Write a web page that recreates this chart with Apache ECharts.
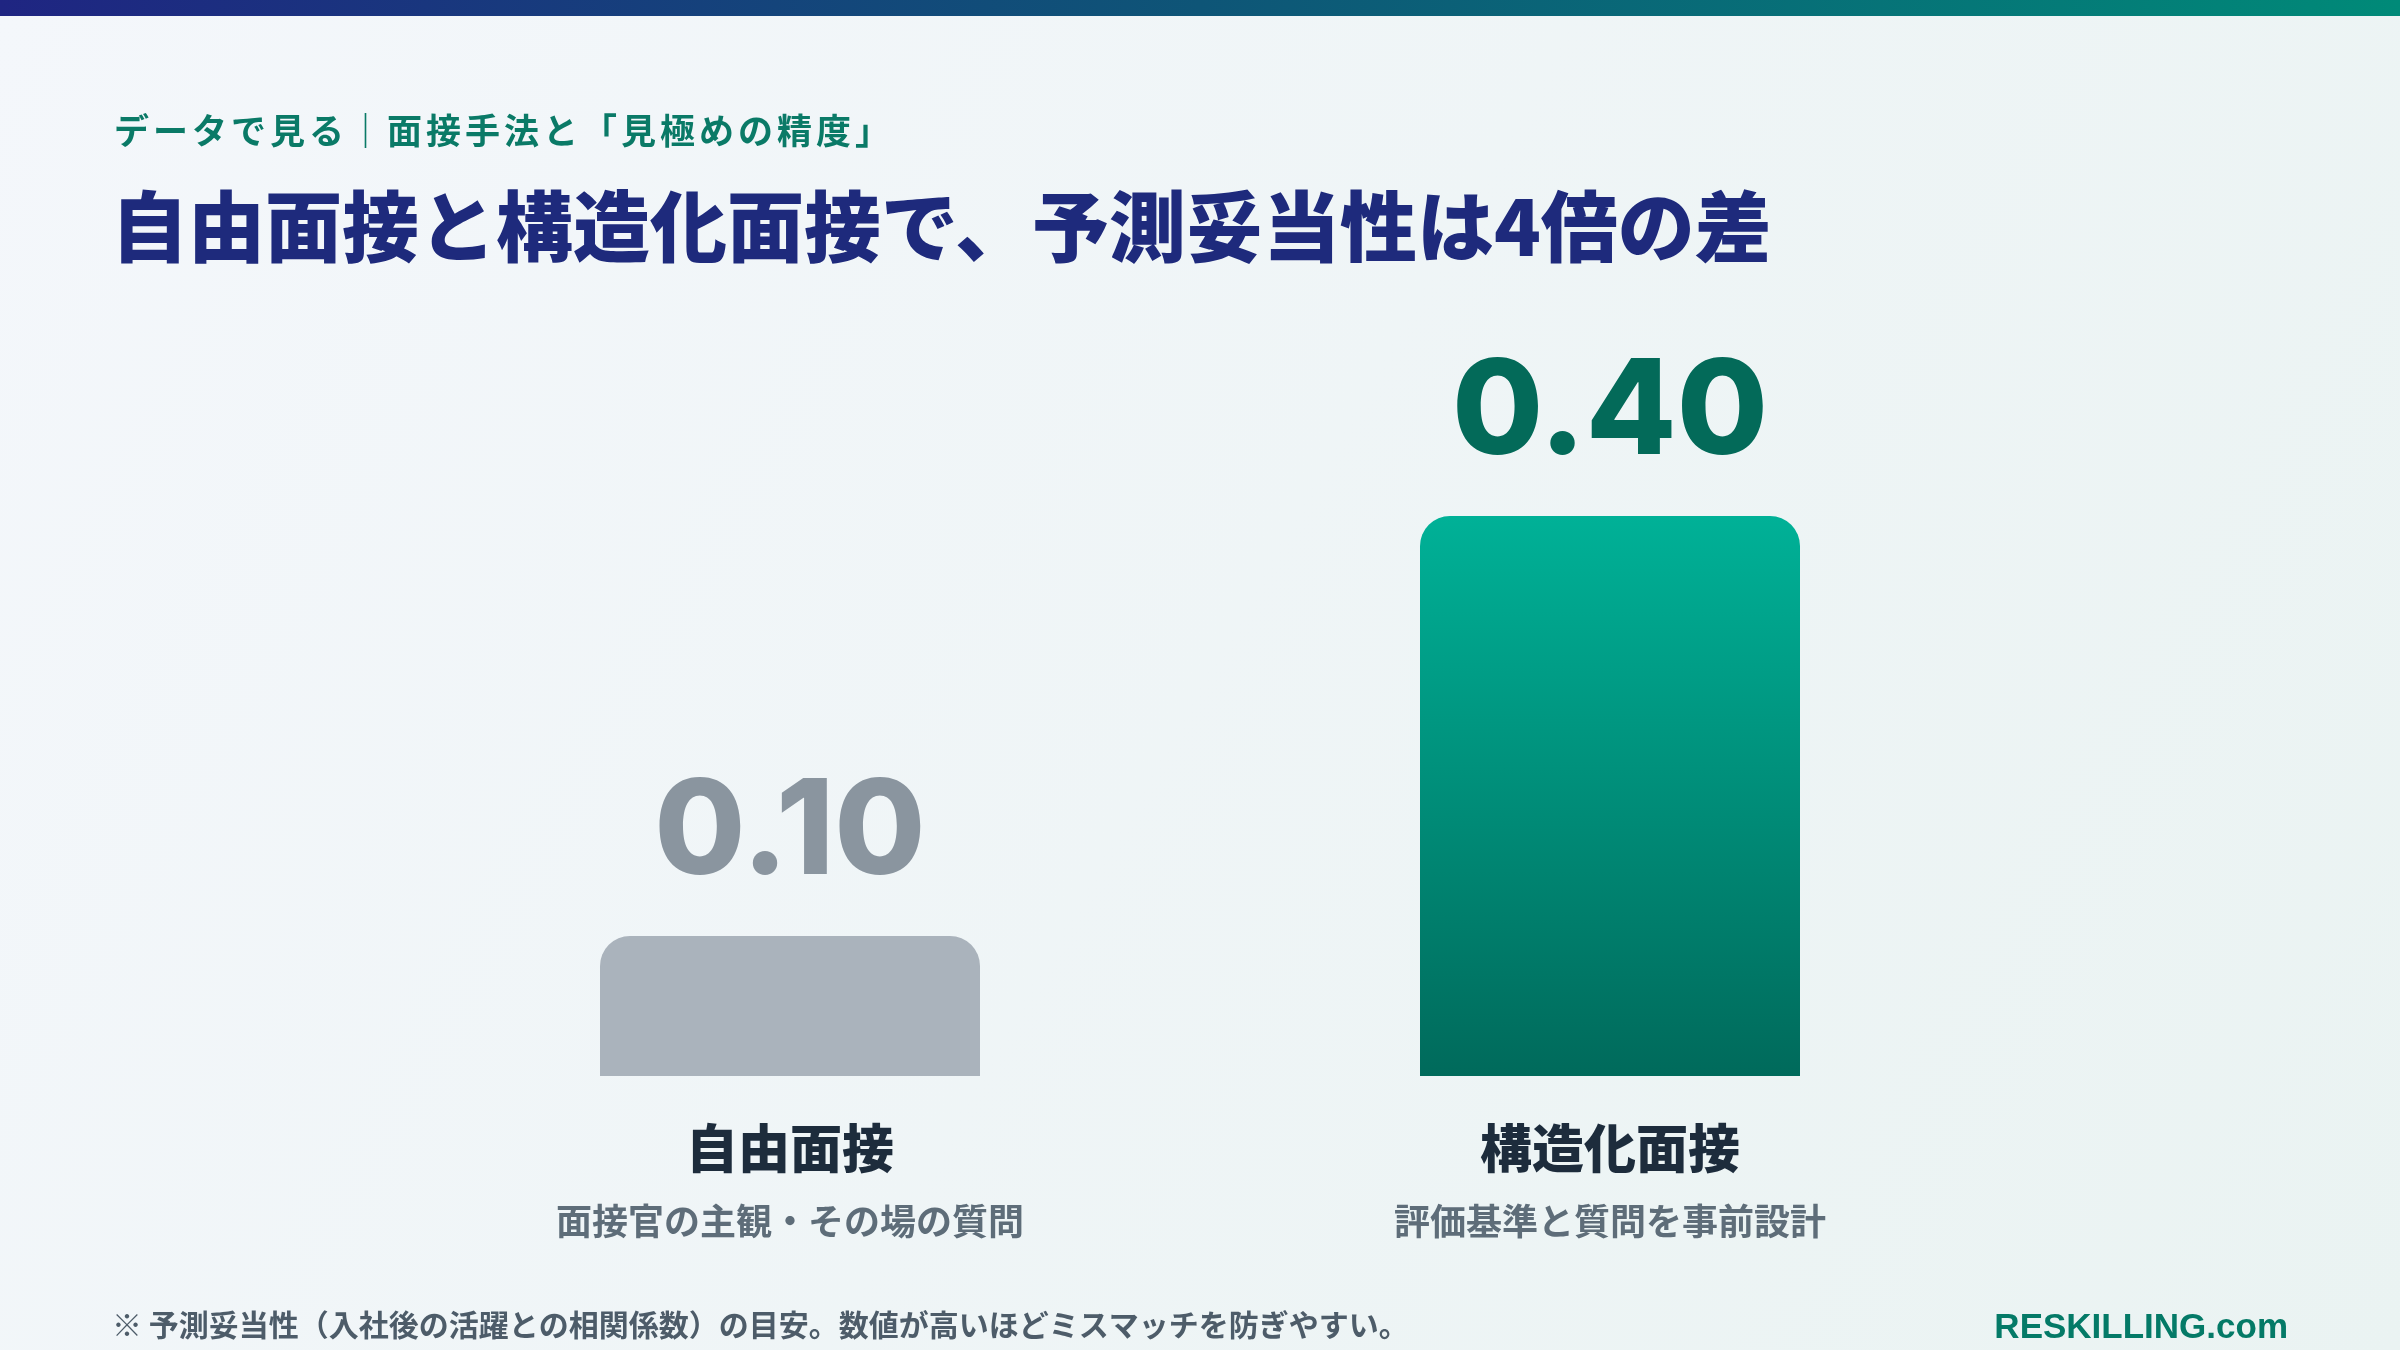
<!DOCTYPE html>
<html>
<head>
<meta charset="utf-8">
<script src="https://cdn.jsdelivr.net/npm/echarts@6/dist/echarts.min.js"></script>
<style>
html,body{margin:0;padding:0;width:2400px;height:1350px;overflow:hidden;}
#chart{width:2400px;height:1350px;}
</style>
</head>
<body>
<div id="chart"></div>
<script>
const categories = ['自由面接', '構造化面接'];
const subtitles = ['面接官の主観・その場の質問', '評価基準と質問を事前設計'];
const values = [0.10, 0.40];
const valueLabels = ['0.10', '0.40'];

const kicker = 'データで見る｜面接手法と「見極めの精度」';
const headline = '自由面接と構造化面接で、予測妥当性は4倍の差';
const footnote = '※ 予測妥当性（入社後の活躍との相関係数）の目安。数値が高いほどミスマッチを防ぎやすい。';
const brand = 'RESKILLING.com';

const CJK = '"Noto Sans CJK JP", "Noto Sans", sans-serif';

const chart = echarts.init(document.getElementById('chart'), null, {renderer: 'canvas'});

const barStyles = [
  {color: '#aab3bc', borderRadius: [30, 30, 0, 0]},
  {color: new echarts.graphic.LinearGradient(0, 0, 0, 1, [
    {offset: 0, color: '#00b197'},
    {offset: 1, color: '#006a5b'}
  ]), borderRadius: [30, 30, 0, 0]}
];
const labelColors = ['#8a959f', '#036a59'];

// spaced characters for the kicker line (letter spacing via rich fragments)
const kickerRich = kicker.split('').map(c => '{c|' + c + '}').join('');

chart.setOption({
  backgroundColor: new echarts.graphic.LinearGradient(0, 0, 1, 1, [
    {offset: 0, color: '#f4f7fb'},
    {offset: 1, color: '#eaf3f2'}
  ]),
  graphic: [
    {
      type: 'rect',
      left: 0, top: 0,
      shape: {width: 2400, height: 16},
      style: {
        fill: new echarts.graphic.LinearGradient(0, 0, 1, 0, [
          {offset: 0, color: '#1f2582'},
          {offset: 0.5, color: '#0e5577'},
          {offset: 1, color: '#008a78'}
        ])
      }
    }
  ],
  title: [
    {
      text: kickerRich, left: 107, top: 108,
      textStyle: {
        rich: {
          c: {fontFamily: CJK, fontSize: 35, fontWeight: 700, color: '#0a7a67', padding: [0, 2, 0, 2]}
        }
      }
    },
    {
      text: headline, left: 106, top: 183,
      textStyle: {fontFamily: CJK, fontSize: 77, fontWeight: 900, color: '#1e2a7c'}
    },
    {
      text: footnote, left: 107, top: 1305,
      textStyle: {fontFamily: CJK, fontSize: 30, fontWeight: 700, color: '#4d5c69'}
    },
    {
      text: brand, right: 107, top: 1306,
      textStyle: {fontFamily: '"Liberation Sans", Arial, sans-serif', fontSize: 35, fontWeight: 700, color: '#047a67'}
    }
  ],
  grid: {left: 380, right: 380, top: 376, bottom: 274},
  xAxis: {
    type: 'category',
    data: categories,
    axisLine: {show: false},
    axisTick: {show: false},
    axisLabel: {
      margin: 40,
      formatter: function (v, i) { return '{n|' + v + '}\n{s|' + subtitles[i] + '}'; },
      rich: {
        n: {fontFamily: CJK, fontSize: 52, fontWeight: 900, color: '#1d2c3c', lineHeight: 64},
        s: {fontFamily: CJK, fontSize: 36, fontWeight: 700, color: '#5e6d79', lineHeight: 82}
      }
    }
  },
  yAxis: {
    type: 'value', min: 0, max: 0.5,
    show: false,
    splitLine: {show: false}
  },
  series: [{
    type: 'bar',
    barWidth: 380,
    data: values.map((v, i) => ({
      value: v,
      itemStyle: barStyles[i],
      label: {color: labelColors[i]}
    })),
    label: {
      show: true,
      position: 'top',
      distance: 36,
      formatter: p => valueLabels[p.dataIndex],
      fontFamily: 'Inter, Lato, sans-serif',
      fontSize: 132,
      fontWeight: 800
    },
    emphasis: {disabled: true},
    animation: false
  }],
  animation: false
});
</script>
</body>
</html>
